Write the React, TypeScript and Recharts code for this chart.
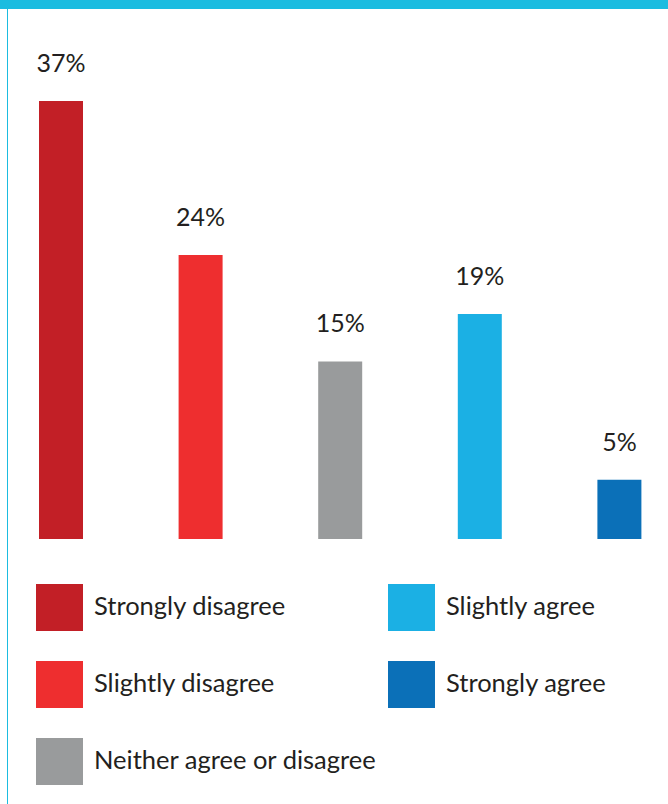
import React from "react";
import { BarChart, Bar, XAxis, YAxis, Cell, LabelList } from "recharts";

const categories = [
  "Strongly disagree",
  "Slightly disagree",
  "Neither agree or disagree",
  "Slightly agree",
  "Strongly agree",
];
const values = [37, 24, 15, 19, 5];
const colors = ["#c21f26", "#ee2e2f", "#999b9c", "#1bb0e4", "#0b70b8"];

// legend is laid out in two columns, like the original
const legendLeft = [0, 1, 2];
const legendRight = [3, 4];

const data = categories.map((name, i) => ({ name, value: values[i] }));

const FONT = "Lato, 'Open Sans', sans-serif";
const TEXT = "#231f20";

const LegendItem: React.FC<{ idx: number }> = ({ idx }) => (
  <div style={{ display: "flex", alignItems: "center", height: 47, marginBottom: 30 }}>
    <div style={{ width: 47, height: 47, background: colors[idx], flexShrink: 0 }} />
    <span
      style={{
        marginLeft: 11,
        fontSize: 25.5,
        color: TEXT,
        fontFamily: FONT,
        whiteSpace: "nowrap",
        position: "relative",
        top: -3,
      }}
    >
      {categories[idx]}
    </span>
  </div>
);

const App: React.FC = () => {
  return (
    <div
      style={{
        position: "absolute",
        left: 0,
        top: 0,
        width: 668,
        height: 804,
        background: "#fff",
        overflow: "hidden",
        fontFamily: FONT,
      }}
    >
      <div style={{ position: "absolute", left: 0, top: 0, width: 668, height: 9, background: "#1bbce0" }} />
      <div style={{ position: "absolute", left: 7, top: 0, width: 1, height: 804, background: "#1bbce0" }} />

      <div style={{ position: "absolute", left: 0, top: 0 }}>
        <BarChart
          width={668}
          height={560}
          data={data}
          margin={{ top: 101, right: -21, bottom: 21, left: -9 }}
        >
          <XAxis dataKey="name" hide />
          <YAxis hide domain={[0, 37]} />
          <Bar dataKey="value" barSize={44} isAnimationActive={false}>
            {data.map((d, i) => (
              <Cell key={d.name} fill={colors[i]} />
            ))}
            <LabelList
              dataKey="value"
              position="top"
              offset={29}
              formatter={(v: any) => `${v}%`}
              style={{ fontSize: 25, fill: TEXT, fontFamily: FONT }}
            />
          </Bar>
        </BarChart>
      </div>

      <div style={{ position: "absolute", left: 36, top: 584 }}>
        {legendLeft.map((i) => (
          <LegendItem key={i} idx={i} />
        ))}
      </div>
      <div style={{ position: "absolute", left: 388, top: 584 }}>
        {legendRight.map((i) => (
          <LegendItem key={i} idx={i} />
        ))}
      </div>
    </div>
  );
};

export default App;
